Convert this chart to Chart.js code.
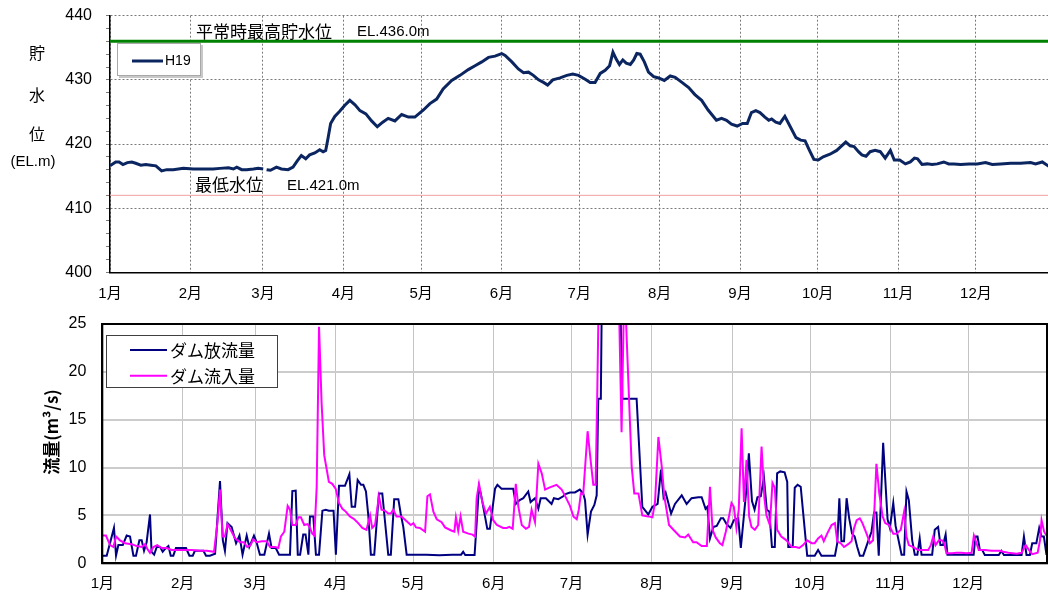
<!DOCTYPE html>
<html>
<head>
<meta charset="utf-8">
<script src="https://cdn.jsdelivr.net/npm/chart.js@4.4.1/dist/chart.umd.min.js"></script>
<style>
html,body{margin:0;padding:0;background:#fff;overflow:hidden;}
#wrap{position:relative;width:1048px;height:593px;}
#top{position:absolute;left:0;top:0;}
#bottom{position:absolute;left:0;top:310px;}
</style>
</head>
<body>
<div id="wrap">
<canvas id="top" width="1048" height="310"></canvas>
<canvas id="bottom" width="1048" height="283"></canvas>
</div>
<script>
// month axis (day of year, 0 = 1 Jan)
const monthStarts = [0,31,59,90,120,151,181,212,243,273,304,334];
const monthLabels = ["1月","2月","3月","4月","5月","6月","7月","8月","9月","10月","11月","12月"];

// reservoir level H19 (EL.m)
const levelDays = [0,2.2,3.5,5,6.7,8.4,9.9,11.9,13.8,15.8,17.7,19.9,21.9,24.4,28.3,32.1,36,39.8,42.4,45.7,47.6,48.9,50.8,52.7,55.3,57.2,59.1,59.6,60.4,61.9,64.2,66.1,68.7,70.6,72.3,73.8,75.5,77,79,80.9,82.2,83.2,84.1,85.1,86.7,88.6,90.5,92.5,94.5,96.4,98.7,100.9,103.1,105.2,107.3,109.9,112.5,115.1,117.6,120.9,123.4,126,128.5,131.8,135,138.2,140.8,143.4,146,148.5,151.1,152.4,155,157.5,159.5,161.4,163.3,165.3,167.2,168.8,170.8,173.6,176.2,178.5,180.7,183.3,185.2,187.1,189.1,191,192.7,194,195.3,196.5,197.8,199.1,200.7,202,203.2,204.5,206.1,207.7,209.7,211.6,213.8,216.1,218,220.6,223.2,225.6,228.2,230.7,233.9,235.9,237.8,239.7,241.9,244,245.8,247.4,249.1,250.7,252.6,254.1,255.2,256.8,258.4,260.3,262,264.6,266.4,268.1,269.7,271.5,273.2,275.1,277.7,280.3,282.2,283.8,285.5,287,288.7,290,291.6,293.2,295.1,297.1,299,301,302.5,304.6,306.8,308.7,310.3,311.5,313.2,315.2,317.1,319.1,321.6,323.5,325.5,328.1,331.3,334.5,337.7,340.3,343.5,347.4,351.2,355.1,357,359.6,362.2];
const levelVals = [416.6,417.2,417.2,416.8,417.1,417.2,417.0,416.7,416.8,416.7,416.6,415.8,416.0,416.0,416.2,416.1,416.1,416.1,416.2,416.3,416.1,416.4,416.0,416.0,416.1,416.2,416.1,null,416.0,415.9,416.4,416.1,416.0,416.4,417.4,418.2,417.7,418.3,418.6,419.1,418.8,419.0,420.9,423.2,424.3,425.1,426.0,426.8,426.1,425.2,424.7,423.6,422.7,423.4,424.0,423.6,424.6,424.2,424.2,425.3,426.3,427.0,428.6,429.9,430.7,431.6,432.2,432.8,433.5,433.7,434.1,433.8,432.8,431.7,431.1,431.2,430.7,430.0,429.6,429.2,430.0,430.3,430.7,430.9,430.7,430.1,429.6,429.6,431.0,431.5,432.2,434.3,433.2,432.4,433.1,432.6,432.4,433.1,434.1,434.0,432.8,431.2,430.5,430.3,429.9,430.6,430.4,429.6,428.8,427.7,426.8,425.3,423.7,424.0,423.7,423.1,422.8,423.2,423.2,424.9,425.2,424.9,424.2,423.7,423.9,423.4,423.2,424.3,423.0,421.0,420.6,420.5,419.1,417.6,417.5,418.0,418.4,419.0,419.7,420.3,419.7,419.6,418.8,418.3,418.1,418.8,419.0,418.8,417.8,419.0,417.5,417.5,416.9,417.2,417.8,417.7,416.8,416.9,416.8,416.9,417.2,416.9,416.9,416.8,416.9,416.9,417.1,416.8,416.9,417.0,417.0,417.1,416.9,417.2,416.5];
const highWater = 436;   // reference line drawn in green
const lowWater = 412;    // thin red reference line

// dam release (m3/s)
const outDays = [0,1.7,4.5,5.3,6.2,7.9,9.4,10.7,12,13,14.3,15.2,16.1,17.1,18.4,19,20,21,22.3,23.3,24.2,25.5,26.4,27.4,28.4,32.3,33.6,34.9,35.7,39,40,41.5,43.5,45.4,46.5,47.3,48.3,49.9,51.6,52.9,54.1,55.7,56.7,58.5,59.4,60.8,62.5,64.3,65.3,66.9,68.2,72.4,73.3,74.6,75.4,76.3,77.5,78.4,79.5,80.1,81.4,82.4,83.6,84.9,86.2,87.4,89.2,90.1,91.3,93.6,95.3,96.2,97.5,98.5,99.8,100.7,101.7,102.6,103.6,104.9,106.7,108,109,110.3,111.3,112.6,114.2,115.1,116.1,117.4,125,130,135,138.4,139.2,140,143.6,144.4,145.3,146,148.5,149.5,151.5,152.4,154,158.5,159.5,161,162.4,164.3,165.2,166.9,168.2,169.1,171.1,173.3,174.2,175.9,177.8,178.4,180.4,182.3,184.2,185.5,186.2,187.2,188.5,189.8,190.7,191.3,192.3,192.9,196,199.6,200.6,206.1,208.3,210.6,212.2,214.2,215.5,216.5,217.3,219.4,220.9,223.5,225.4,227.3,229.9,231.2,232.7,233.4,234.4,235.7,237,238.6,239.5,240.8,242.3,243.6,245.3,246.3,247.5,248.5,249.4,250.6,251.6,252.7,254,255.2,256.3,257.3,258.3,259.4,260.3,261.5,263.2,264.2,264.6,266.3,267.1,268.2,269.4,270.3,271.9,274.8,276.1,277.4,282.6,283.5,284.3,285.1,286.1,287.1,288.1,289.2,290.2,291.2,292.2,293.5,295.8,296.7,297.7,298.6,299.5,301.2,302.9,303.8,305.1,306,308.3,309.3,310.2,311.1,312.4,313.4,314.4,315.3,316,320.1,321.1,322.4,323.3,324.3,325.3,326,336.1,336.8,337.6,338.5,339.4,340.4,345.8,346.8,347.8,354.6,355.5,356.5,357.8,358.7,360.3,361.4,362.3,363.2,364.2];
const outVals = [0.8,0.8,3.7,0.8,1.9,1.9,2.9,2.8,0.8,0.8,2.4,2.4,1.3,2.2,5.1,1.2,0.9,1.7,1.7,1.2,1.5,1.8,0.8,0.8,1.6,1.6,0.8,0.8,1.3,1.3,0.8,0.8,1.0,8.6,2.4,1.3,4.2,3.8,2.1,2.9,0.9,2.9,1.7,2.9,2.3,0.9,0.9,3.1,1.6,1.6,0.9,0.9,7.55,7.6,0.9,0.9,3.0,3.0,0.9,4.9,4.9,0.9,0.9,5.5,5.6,5.5,5.5,0.9,8.1,8.1,9.3,5.9,5.9,8.7,8.2,8.2,7.5,5.0,0.9,0.9,7.3,7.3,4.5,0.9,0.9,6.7,6.7,5.2,3.8,0.9,0.9,0.85,0.9,0.9,1.2,0.87,0.87,4.2,8.0,7.3,3.6,3.6,7.8,8.2,7.8,7.8,6.2,6.6,6.8,7.5,6.4,6.8,5.7,6.8,6.8,6.2,6.8,6.7,7.0,7.2,7.4,7.4,7.7,7.3,6.6,3.0,5.4,6.1,7.1,17.2,17.2,34,45,30,17.2,17.2,5.9,5.1,5.9,6.2,9.8,6.9,7.4,5.2,6.2,7.1,6.2,6.8,6.9,6.9,5.7,5.9,2.6,3.8,3.9,4.7,4.7,4.1,3.7,4.5,4.7,1.6,5.0,7.9,11.5,6.5,5.6,6.9,7.0,9.0,5.6,5.4,1.7,1.7,9.4,9.6,9.5,8.5,1.7,1.7,7.9,8.2,8.0,5.4,0.8,0.8,1.4,0.8,0.8,2.1,6.8,2.3,2.3,6.8,4.7,3.1,2.8,1.7,0.8,0.8,2.6,3.3,5.3,5.3,0.8,12.6,4.6,3.7,6.3,3.9,0.9,0.9,7.5,6.6,2.4,0.9,0.9,2.6,0.9,0.9,3.5,3.8,1.9,1.9,3.0,0.9,0.9,2.8,2.8,1.4,1.4,0.87,0.87,1.3,0.87,0.87,2.8,0.87,0.87,2.1,2.1,3.7,2.8,2.8,0.87];

// dam inflow (m3/s)
const inDays = [0,1.4,3,4.3,5.3,6.8,8.8,11.3,13.3,15.2,16.5,17.4,18.4,19.7,21.2,22.9,24.8,26.8,28.7,31.3,34.5,37.7,40.3,43.1,44.4,45.4,46.4,47.3,48.3,49.9,51.2,53.1,54.6,55.9,57.2,58.2,59.5,61.5,63.4,64.7,66.6,67.9,68.9,70.2,71.5,72.4,73.3,74.6,75.6,76.6,77.9,79.2,80.1,81,81.8,82.7,83.6,84.6,85.6,86.5,87.4,88.7,90,91.3,92.6,93.9,95.5,97.2,98.7,100.3,101.9,103.3,104.1,105.2,106.7,107.7,109,110.3,111.3,112.2,113.5,115.4,117.4,119,120,121,122.5,124.5,125.4,126.4,127.7,129,130.9,132.2,134.8,135.8,136.4,137.3,138.2,139.2,141.2,142.8,143.8,144.4,145.3,146.5,148,149.5,150.8,152.2,154.6,156,157,158.3,158.9,159.5,160.5,161.8,163.4,164.6,165.6,166.9,168.2,169.5,170.8,172.4,175.2,177.2,178.4,180.4,181.7,183,183.8,184.6,185.5,187.2,188.5,189.4,190.3,190.9,191.6,194,197,199.3,200.3,201.4,202.2,204.2,205.2,206.8,208.3,210.6,212.2,213.2,214.5,215.8,216.8,218.6,220.3,222.8,224.8,226,227.9,229.2,231.2,233.2,234.4,235.4,236.6,238.2,239.2,240.5,241.8,242.7,243.6,244.6,245.5,246.6,247.5,248.5,249.5,250.4,251.7,253,254.3,255.4,256.2,257.5,258.5,259.4,260.3,261.9,263.9,265.9,267.5,268.8,270.3,271.9,273.6,274.8,276.1,277.4,278.3,279.6,281.3,282.6,283.5,284.8,286.1,287.7,289,290,291,292.2,293.2,294.8,296.1,297.3,298.6,299.7,301,302,303.5,305.1,306.4,308,309.3,310.2,311.1,312.8,314.7,316.6,318.6,319.6,320.5,321.4,322.7,323.8,324.8,325.6,327.8,329.5,331.4,333.3,335.3,336.2,337.2,338.1,340.4,343,346.2,347.5,349.5,352.7,354.6,356.2,357.4,358.7,360.8,361.7,362.3,363.3,364.2];
const inVals = [2.9,2.9,1.9,1.7,2.8,2.4,2.1,2.0,1.8,1.7,2.0,1.5,1.1,1.7,1.9,1.6,1.6,1.4,1.4,1.4,1.4,1.3,1.3,1.2,4.2,7.7,2.8,2.8,4.1,3.3,2.6,2.2,2.2,1.7,1.9,2.5,2.2,2.3,2.3,1.7,1.7,1.6,2.8,3.3,6.0,5.6,4.0,4.0,4.8,4.8,4.0,4.1,3.7,3.1,2.9,8.0,24.7,16.7,11.3,9.9,8.5,8.3,7.8,6.3,5.7,5.4,4.9,4.6,4.2,3.7,3.5,5.0,3.7,4.0,7.0,5.6,5.5,5.2,5.2,5.6,4.9,4.9,4.4,4.0,4.2,3.75,3.7,3.3,7.0,7.2,5.4,4.6,4.3,3.75,3.4,3.3,4.8,3.4,4.9,3.3,3.1,3.0,2.8,6.8,8.3,6.5,5.2,5.9,4.5,4.0,3.7,3.7,3.8,3.6,5.9,8.3,5.9,4.0,3.6,3.8,5.6,4.3,10.4,9.4,7.7,7.9,8.2,7.7,7.1,6.0,4.9,4.6,5.6,7.3,7.2,13.8,10.4,8.2,8.2,17.4,30,55,40,27,13.7,30,24,10.1,7.3,7.3,5.0,4.9,4.8,6.4,13.2,10.1,7.0,4.0,3.5,2.8,2.7,3.0,2.2,2.2,1.8,1.8,8.0,3.5,2.7,2.1,1.9,3.3,5.0,6.3,5.9,3.7,5.6,14.1,6.4,10.8,4.9,3.8,3.5,4.0,12.2,6.8,5.0,4.0,8.4,7.9,3.5,2.8,2.4,1.7,1.7,1.6,1.9,2.4,2.1,2.1,2.6,2.9,2.3,3.1,4.0,4.2,2.3,2.1,1.7,2.0,2.3,3.7,4.5,4.7,4.2,3.1,2.1,2.4,10.4,7.3,4.9,4.2,4.0,3.1,3.1,3.5,5.4,2.8,1.9,1.7,1.4,1.4,1.4,1.9,2.8,1.9,2.4,2.4,2.1,1.05,1.05,1.1,1.1,1.05,1.1,2.9,2.1,1.4,1.4,1.3,1.3,1.2,1.1,1.0,1.1,1.9,1.4,0.95,1.1,2.4,4.5,3.3,2.9];

const FONT = '"Liberation Sans","Noto Sans CJK JP",sans-serif';
const JFONT = '"Noto Sans CJK JP","Liberation Sans",sans-serif';

function pts(days, vals){
    return days.map((d,i)=>({x:d,y:vals[i]}));
}

function monthTicks(scale){
    scale.ticks = monthStarts.map(v=>({value:v}));
}

// fix axis sizes so the plot areas land where the picture has them
function fixY(w){
    return s=>{ s.width = w; s.paddingTop = 0; s.paddingBottom = 0; };
}
function fixX(h){
    return s=>{ s.height = h; s.paddingLeft = 0; s.paddingRight = 0; };
}

const topXMax = 361.8;

const topText = {
    id:"topText",
    afterDraw(chart){
        const ctx = chart.ctx;
        ctx.save();
        ctx.fillStyle = "#000";
        ctx.textBaseline = "middle";
        ctx.textAlign = "left";
        ctx.font = "17px " + JFONT;
        ctx.fillText("平常時最高貯水位", 196, 31.5);
        ctx.fillText("最低水位", 195, 185);
        ctx.font = "15px " + FONT;
        ctx.fillText("EL.436.0m", 357, 32);
        ctx.fillText("EL.421.0m", 287, 185.5);

        // vertical axis title
        ctx.textAlign = "center";
        ctx.font = "16px " + JFONT;
        ctx.fillText("貯", 37, 53);
        ctx.fillText("水", 37, 95);
        ctx.fillText("位", 37, 133.5);
        ctx.font = "15px " + FONT;
        ctx.fillText("(EL.m)", 33, 162);

        // legend
        ctx.fillStyle = "#fff";
        ctx.fillRect(117, 43, 84, 33);
        ctx.strokeStyle = "#c8c8c8";
        ctx.lineWidth = 2;
        ctx.beginPath();
        ctx.moveTo(202, 45);
        ctx.lineTo(202, 77);
        ctx.lineTo(119, 77);
        ctx.stroke();
        ctx.strokeStyle = "#a8a8a8";
        ctx.lineWidth = 1;
        ctx.strokeRect(117.5, 43.5, 83, 32);
        ctx.strokeStyle = "#0b2560";
        ctx.lineWidth = 3;
        ctx.beginPath();
        ctx.moveTo(132, 61);
        ctx.lineTo(163, 61);
        ctx.stroke();
        ctx.fillStyle = "#000";
        ctx.textAlign = "left";
        ctx.font = "14px " + FONT;
        ctx.fillText("H19", 165, 61.5);
        ctx.restore();
    }
};

new Chart(document.getElementById("top"), {
    type:"line",
    data:{
        datasets:[
            {label:"H19", data:pts(levelDays, levelVals), borderColor:"#0b2560", borderWidth:3, pointRadius:0, tension:0, clip:0},
            {label:"max", data:[{x:0,y:highWater},{x:topXMax,y:highWater}], borderColor:"#008000", borderWidth:3, pointRadius:0, clip:0},
            {label:"min", data:[{x:0,y:lowWater},{x:topXMax,y:lowWater}], borderColor:"#f2a0a0", borderWidth:1, pointRadius:0, clip:0}
        ]
    },
    options:{
        responsive:false,
        animation:false,
        devicePixelRatio:1,
        layout:{padding:{top:15.7, right:0, left:0, bottom:0}},
        plugins:{legend:{display:false}, tooltip:{enabled:false}},
        scales:{
            x:{
                type:"linear", min:0, max:topXMax,
                afterBuildTicks:monthTicks,
                afterFit:fixX(37.7),
                ticks:{autoSkip:false, maxRotation:0, padding:13, color:"#000",
                    font:{size:15, family:FONT},
                    callback:(v,i)=>monthLabels[i]},
                grid:{color:"#7a7a7a", lineWidth:1, drawTicks:false},
                border:{color:"#000", width:1.5, dash:[2,2]}
            },
            y:{
                min:400, max:440,
                afterFit:fixY(110),
                ticks:{stepSize:2, autoSkip:false, padding:14, color:"#000",
                    font:{size:16, family:FONT},
                    callback:v=>v%10===0 ? v : ""},
                grid:{color:c=>(c.tick && c.tick.value%10===0) ? "#7a7a7a" : "rgba(0,0,0,0)",
                    tickColor:"#7a7a7a", tickLength:4},
                border:{color:"#000", width:1.5, dash:[2,2]}
            }
        }
    },
    plugins:[topText]
});

const bottomText = {
    id:"bottomText",
    afterDraw(chart){
        const ctx = chart.ctx;
        const a = chart.chartArea;
        ctx.save();
        ctx.strokeStyle = "#000";
        ctx.lineWidth = 2;
        ctx.strokeRect(a.left, a.top, a.right - a.left, a.bottom - a.top);

        // axis title
        ctx.translate(52, 122);
        ctx.rotate(-Math.PI/2);
        ctx.fillStyle = "#000";
        ctx.textAlign = "center";
        ctx.textBaseline = "middle";
        ctx.font = "bold 17px " + JFONT;
        ctx.fillText("流量(m³/s)", 0, 0);
        ctx.setTransform(1,0,0,1,0,0);

        // legend
        ctx.fillStyle = "#fff";
        ctx.fillRect(106, 25.7, 172, 51.6);
        ctx.strokeStyle = "#404040";
        ctx.lineWidth = 1;
        ctx.strokeRect(106.5, 25.5, 171, 52);
        const items = [["ダム放流量","#000080",40],["ダム流入量","#ff00ff",65.7]];
        items.forEach(it=>{
            ctx.strokeStyle = it[1];
            ctx.lineWidth = 2;
            ctx.beginPath();
            ctx.moveTo(130, it[2]);
            ctx.lineTo(167, it[2]);
            ctx.stroke();
            ctx.fillStyle = "#000";
            ctx.textAlign = "left";
            ctx.font = "17px " + JFONT;
            ctx.fillText(it[0], 170, it[2] + 1);
        });
        ctx.restore();
    }
};

new Chart(document.getElementById("bottom"), {
    type:"line",
    data:{
        datasets:[
            {label:"ダム放流量", data:pts(outDays, outVals), borderColor:"#000080", borderWidth:2, pointRadius:0, tension:0, clip:0, order:1},
            {label:"ダム流入量", data:pts(inDays, inVals), borderColor:"#ff00ff", borderWidth:2, pointRadius:0, tension:0, clip:0, order:0}
        ]
    },
    options:{
        responsive:false,
        animation:false,
        devicePixelRatio:1,
        layout:{padding:{top:14, right:1, left:0, bottom:0}},
        plugins:{legend:{display:false}, tooltip:{enabled:false}},
        scales:{
            x:{
                type:"linear", min:0, max:364.4,
                afterBuildTicks:monthTicks,
                afterFit:fixX(29.7),
                ticks:{autoSkip:false, maxRotation:0, padding:12, color:"#000",
                    font:{size:15, family:FONT},
                    callback:(v,i)=>monthLabels[i]},
                grid:{color:"#c4c4c4", lineWidth:1, drawTicks:false},
                border:{color:"#000", width:2}
            },
            y:{
                min:0, max:25,
                afterFit:fixY(102.3),
                ticks:{stepSize:5, padding:16, color:"#000",
                    font:{size:16, family:FONT}},
                grid:{color:"#cccccc", lineWidth:2, drawTicks:false},
                border:{color:"#000", width:2}
            }
        }
    },
    plugins:[bottomText]
});
</script>
</body>
</html>
